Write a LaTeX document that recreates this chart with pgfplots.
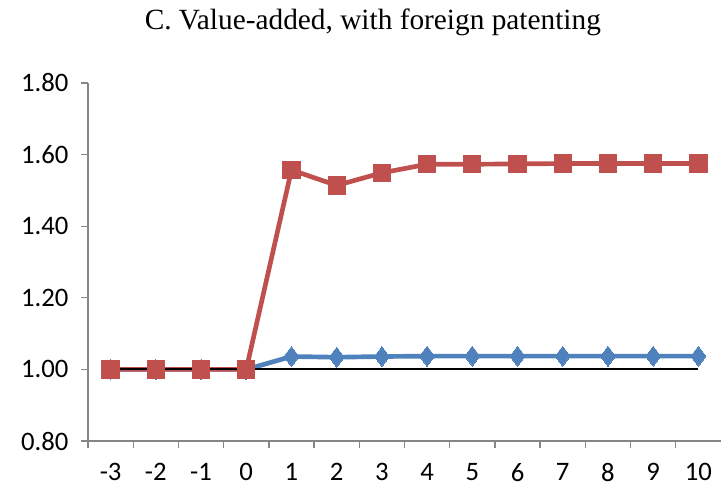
\documentclass[border=0pt]{standalone}
\usepackage{pgfplots}
\pgfplotsset{compat=1.18}
\usepackage{fontspec}
\setmainfont{Carlito}
\newfontfamily\titlefont{Liberation Serif}
\definecolor{xlred}{RGB}{192,80,77}
\definecolor{xlblue}{RGB}{79,129,189}
\definecolor{axgray}{RGB}{134,134,134}

\begin{document}
\begin{tikzpicture}[x=0.75pt,y=0.75pt]
\begin{axis}[
    at={(0,0)}, anchor=south west,
    scale only axis,
    width=474.75pt, height=268.5pt,
    xmin=-3.5, xmax=10.5,
    ymin=0.8, ymax=1.8,
    axis lines*=left,
    axis line style={axgray, line width=1pt},
    xtick={-3,...,10},
    minor xtick={-3.5,-2.5,...,9.5},
    ytick={0.8,1.0,...,1.8},
    major x tick style={draw=none},
    minor x tick style={axgray, line width=1pt},
    major y tick style={axgray, line width=1pt},
    tick align=outside,
    major tick length=5.25pt,
    minor tick length=5.25pt,
    font=\fontsize{20}{24}\selectfont,
    /pgf/number format/assume math mode=true,
    yticklabel style={xshift=-6pt, /pgf/number format/.cd, fixed, fixed zerofill, precision=2},
    xticklabel style={yshift=-8pt},
    clip=false,
    title={\titlefont\fontsize{22}{26}\selectfont C. Value-added, with foreign patenting},
    title style={at={(axis description cs:0.45,1.148)}, anchor=center},
]
\addplot[xlblue, line width=3.5pt, mark=diamond*, mark size=7.5pt,
    mark options={fill=xlblue, draw=xlblue, line width=0pt}] coordinates {
    (-3,1.000) (-2,1.000) (-1,1.000) (0,1.000) (1,1.036) (2,1.034)
    (3,1.036) (4,1.037) (5,1.037) (6,1.037) (7,1.037) (8,1.037)
    (9,1.037) (10,1.037)
};
\addplot[xlred, line width=3.5pt, mark=square*, mark size=6.5pt,
    mark options={fill=xlred, draw=xlred, line width=0pt}] coordinates {
    (-3,1.000) (-2,1.000) (-1,1.000) (0,1.000) (1,1.557) (2,1.514)
    (3,1.549) (4,1.573) (5,1.573) (6,1.574) (7,1.575) (8,1.575)
    (9,1.575) (10,1.575)
};
\addplot[black, line width=1.5pt, no marks] coordinates {
    (-3,1.0) (10,1.0)
};
\end{axis}
\pgfresetboundingbox
\path (-88,-47) rectangle (633,441);
\end{tikzpicture}
\end{document}
